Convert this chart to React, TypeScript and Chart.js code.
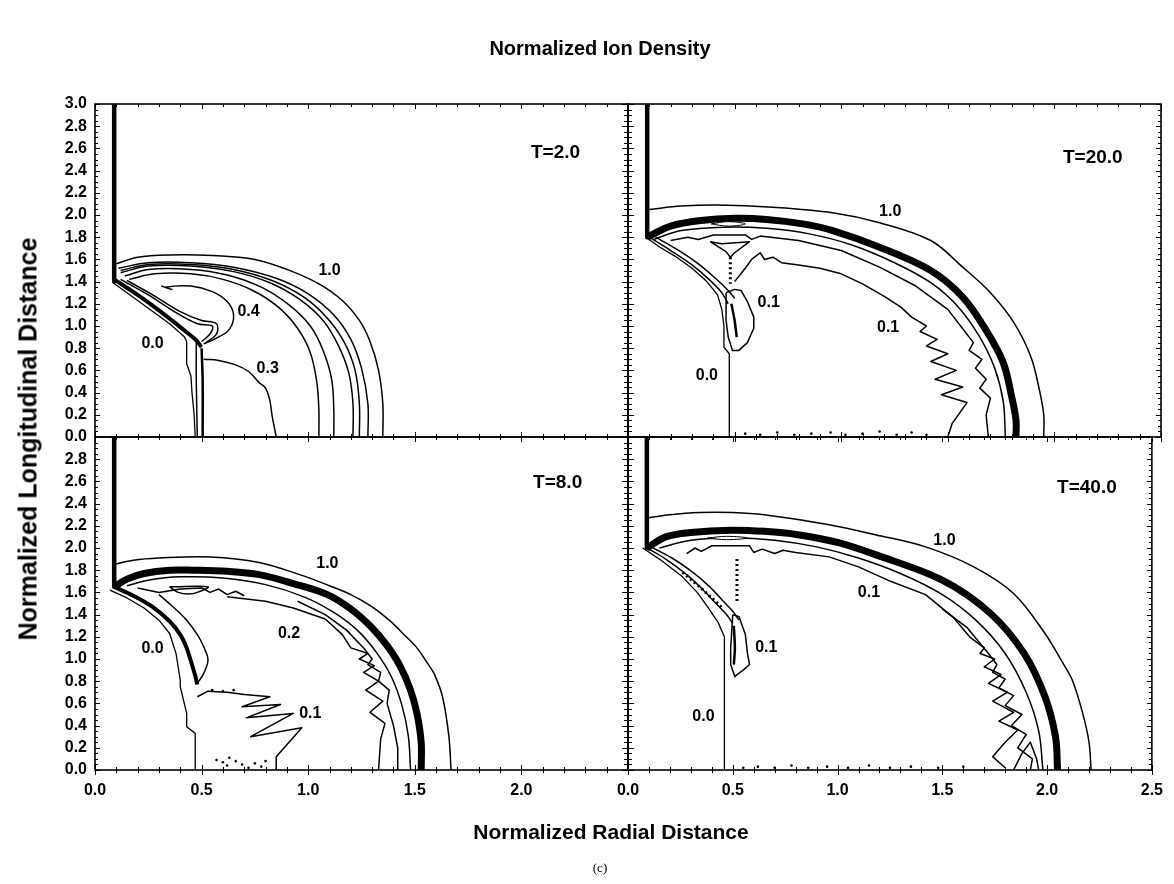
import React, { useEffect, useRef } from 'react';
import { Chart, registerables } from 'chart.js';
Chart.register(...registerables);

const W = 1174;
const H = 884;
const FONT = '"Liberation Sans", Arial, Helvetica, sans-serif';

// ---------- axis ticks ----------
const X_MIN = 0, X_MAX = 2.5, X_STEP = 0.5;
const Y_MIN = 0, Y_MAX = 3.0, Y_STEP = 0.2;

// ---------- Panel A : T=2.0 (contour polylines as x,y pairs) ----------
const A_WALL = [0.09, 3.0, 0.09, 1.40];
const A_CONE = [0.09, 1.42, 0.20, 1.28, 0.30, 1.14, 0.40, 0.99, 0.47, 0.88, 0.50, 0.81];
const A_ZERO = [0.085, 1.39, 0.15, 1.30, 0.25, 1.16, 0.35, 1.02, 0.42, 0.90, 0.43, 0.86, 0.43, 0.66, 0.45, 0.55, 0.455, 0.40, 0.465, 0.20, 0.47, 0.0];
const A_STEM1 = [0.475, 0.86, 0.475, 0.5, 0.48, 0.0];
const A_STEM2 = [0.50, 0.80, 0.505, 0.5, 0.505, 0.0];
const A_LOOP1 = [0.12, 1.42, 0.25, 1.28, 0.38, 1.12, 0.48, 1.02, 0.55, 1.00, 0.54, 0.93, 0.50, 0.86];
const A_LOOP2 = [0.15, 1.41, 0.28, 1.27, 0.40, 1.13, 0.50, 1.05, 0.57, 1.02, 0.57, 0.93, 0.52, 0.85];
const A_C04 = [0.31, 1.36, 0.36, 1.33, 0.33, 1.35, 0.45, 1.36, 0.55, 1.31, 0.62, 1.22, 0.65, 1.10, 0.63, 0.97, 0.57, 0.89, 0.51, 0.84];
const A_C03 = [0.51, 0.70, 0.58, 0.69, 0.66, 0.65, 0.72, 0.59, 0.77, 0.49, 0.80, 0.44, 0.82, 0.33, 0.83, 0.20, 0.85, 0.0];
const A_ARC1 = [0.10, 1.56, 0.20, 1.62, 0.35, 1.64, 0.55, 1.635, 0.75, 1.60, 0.90, 1.51, 1.05, 1.38, 1.16, 1.23, 1.24, 1.05, 1.29, 0.86, 1.33, 0.60, 1.35, 0.30, 1.35, 0.0];
const A_ARC2 = [0.11, 1.52, 0.25, 1.57, 0.45, 1.57, 0.65, 1.53, 0.85, 1.43, 1.00, 1.29, 1.12, 1.10, 1.20, 0.88, 1.25, 0.62, 1.28, 0.30, 1.28, 0.0];
const A_ARC3 = [0.12, 1.50, 0.25, 1.555, 0.45, 1.555, 0.65, 1.51, 0.83, 1.41, 0.98, 1.26, 1.09, 1.07, 1.17, 0.85, 1.22, 0.60, 1.24, 0.30, 1.24, 0.0];
const A_ARC4 = [0.12, 1.48, 0.25, 1.54, 0.45, 1.54, 0.65, 1.49, 0.82, 1.39, 0.96, 1.24, 1.07, 1.05, 1.14, 0.83, 1.19, 0.58, 1.21, 0.30, 1.21, 0.0];
const A_ARC5 = [0.14, 1.45, 0.25, 1.51, 0.45, 1.51, 0.62, 1.46, 0.78, 1.35, 0.91, 1.19, 1.01, 1.00, 1.07, 0.78, 1.11, 0.52, 1.12, 0.25, 1.12, 0.0];
const A_ARC6 = [0.16, 1.42, 0.28, 1.47, 0.45, 1.47, 0.60, 1.42, 0.74, 1.32, 0.86, 1.17, 0.95, 0.98, 1.01, 0.76, 1.04, 0.50, 1.05, 0.25, 1.05, 0.0];
const A_LBL_T = ['1.0', '0.4', '0.0', '0.3'];
const A_LBL_X = [1.10, 0.72, 0.27, 0.81];
const A_LBL_Y = [1.50, 1.13, 0.84, 0.62];

// ---------- Panel B : T=20.0 ----------
const B_WALL = [0.09, 3.0, 0.09, 1.80];
const B_OUTER = [0.10, 2.05, 0.25, 2.08, 0.42, 2.09, 0.68, 2.07, 0.96, 2.02, 1.18, 1.93, 1.42, 1.77, 1.57, 1.53, 1.70, 1.30, 1.81, 1.03, 1.89, 0.72, 1.93, 0.42, 1.95, 0.20, 1.95, 0.0];
const B_SHELL = [0.09, 1.80, 0.20, 1.90, 0.34, 1.95, 0.50, 1.97, 0.65, 1.96, 0.82, 1.92, 0.96, 1.86, 1.18, 1.71, 1.42, 1.50, 1.57, 1.26, 1.68, 0.96, 1.76, 0.67, 1.80, 0.36, 1.82, 0.15, 1.82, 0.0];
const B_IN1 = [0.12, 1.78, 0.25, 1.86, 0.45, 1.89, 0.65, 1.88, 0.85, 1.83, 1.05, 1.73, 1.25, 1.57, 1.42, 1.39, 1.55, 1.17, 1.65, 0.90, 1.72, 0.62, 1.76, 0.32, 1.77, 0.0];
const B_IN2 = [0.20, 1.77, 0.28, 1.80, 0.33, 1.78, 0.40, 1.82, 0.55, 1.82, 0.58, 1.78, 0.62, 1.81, 0.80, 1.77, 1.0, 1.68, 1.18, 1.53, 1.35, 1.36, 1.50, 1.15, 1.58, 0.95, 1.62, 0.85, 1.60, 0.78, 1.66, 0.70, 1.63, 0.62, 1.68, 0.52, 1.65, 0.44, 1.70, 0.35, 1.68, 0.20, 1.69, 0.0];
const B_C01 = [0.50, 1.40, 0.55, 1.52, 0.58, 1.60, 0.62, 1.66, 0.64, 1.60, 0.68, 1.62, 0.72, 1.57, 0.80, 1.55, 0.90, 1.52, 1.00, 1.47, 1.10, 1.38, 1.20, 1.27, 1.28, 1.17, 1.33, 1.08, 1.40, 1.00, 1.37, 0.95, 1.45, 0.88, 1.40, 0.82, 1.50, 0.75, 1.42, 0.68, 1.54, 0.60, 1.44, 0.52, 1.57, 0.45, 1.47, 0.38, 1.59, 0.31, 1.52, 0.12, 1.50, 0.0];
const B_TRI = [0.385, 1.76, 0.44, 1.74, 0.57, 1.76, 0.50, 1.66, 0.48, 1.62, 0.46, 1.67, 0.385, 1.76];
const B_DASH = [0.48, 1.62, 0.48, 1.38];
const B_LENS = [0.39, 1.92, 0.47, 1.94, 0.55, 1.92, 0.47, 1.90, 0.39, 1.92];
const B_ZERO = [0.09, 1.79, 0.15, 1.71, 0.22, 1.63, 0.30, 1.52, 0.37, 1.40, 0.42, 1.28, 0.44, 1.15, 0.45, 1.00, 0.45, 0.81, 0.475, 0.75, 0.475, 0.55, 0.475, 0.0];
const B_CONE1 = [0.10, 1.80, 0.20, 1.68, 0.30, 1.55, 0.38, 1.42, 0.44, 1.30, 0.47, 1.20];
const B_CONE2 = [0.13, 1.80, 0.23, 1.69, 0.33, 1.56, 0.41, 1.43, 0.47, 1.32, 0.50, 1.25];
const B_TONGUE = [0.46, 1.30, 0.50, 1.33, 0.53, 1.32, 0.56, 1.22, 0.59, 1.08, 0.59, 0.98, 0.56, 0.85, 0.52, 0.78, 0.49, 0.78, 0.47, 0.90, 0.46, 1.05, 0.46, 1.30];
const B_CORE = [0.485, 1.20, 0.50, 1.05, 0.51, 0.90];
const B_NOISE = [0.55, 0.03, 0.62, 0.02, 0.70, 0.04, 0.78, 0.02, 0.86, 0.03, 0.95, 0.04, 1.02, 0.02, 1.10, 0.03, 1.18, 0.05, 1.26, 0.02, 1.33, 0.04, 1.40, 0.02];
const B_LBL_T = ['1.0', '0.1', '0.1', '0.0'];
const B_LBL_X = [1.23, 0.66, 1.22, 0.37];
const B_LBL_Y = [2.03, 1.21, 0.99, 0.55];

// ---------- Panel C : T=8.0 ----------
const C_WALL = [0.09, 3.0, 0.09, 1.65];
const C_OUTER = [0.085, 1.85, 0.18, 1.89, 0.30, 1.91, 0.54, 1.92, 0.77, 1.87, 0.96, 1.76, 1.10, 1.66, 1.20, 1.58, 1.30, 1.47, 1.38, 1.35, 1.46, 1.20, 1.51, 1.10, 1.56, 0.96, 1.59, 0.87, 1.63, 0.66, 1.66, 0.30, 1.67, 0.0];
const C_SHELL = [0.09, 1.65, 0.15, 1.72, 0.23, 1.77, 0.35, 1.80, 0.46, 1.80, 0.62, 1.79, 0.77, 1.76, 0.93, 1.68, 1.09, 1.58, 1.20, 1.45, 1.30, 1.28, 1.37, 1.12, 1.43, 0.94, 1.48, 0.72, 1.51, 0.51, 1.53, 0.25, 1.53, 0.0];
const C_IN1 = [0.15, 1.66, 0.25, 1.71, 0.40, 1.74, 0.60, 1.73, 0.80, 1.67, 0.98, 1.56, 1.12, 1.42, 1.23, 1.26, 1.32, 1.06, 1.39, 0.84, 1.44, 0.58, 1.47, 0.30, 1.48, 0.0];
const C_IN2 = [0.95, 1.52, 1.08, 1.40, 1.18, 1.26, 1.26, 1.10, 1.30, 1.00, 1.28, 0.95, 1.34, 0.88, 1.33, 0.80, 1.38, 0.72, 1.37, 0.60, 1.40, 0.40, 1.42, 0.20, 1.42, 0.0];
const C_JAG = [0.20, 1.64, 0.30, 1.60, 0.40, 1.63, 0.50, 1.64, 0.54, 1.60, 0.58, 1.63, 0.62, 1.58, 0.66, 1.61, 0.70, 1.57];
const C_C02 = [0.62, 1.56, 0.80, 1.52, 0.93, 1.46, 1.08, 1.36, 1.16, 1.22, 1.20, 1.10, 1.28, 1.05, 1.24, 1.00, 1.31, 0.94, 1.26, 0.88, 1.33, 0.80, 1.27, 0.72, 1.35, 0.62, 1.29, 0.52, 1.36, 0.42, 1.34, 0.28, 1.33, 0.0];
const C_LENS = [0.35, 1.65, 0.53, 1.65, 0.48, 1.60, 0.44, 1.585, 0.39, 1.60, 0.35, 1.65];
const C_CONE = [0.09, 1.65, 0.18, 1.57, 0.27, 1.47, 0.35, 1.34, 0.40, 1.22, 0.43, 1.10, 0.45, 0.98, 0.47, 0.85, 0.48, 0.77];
const C_TONGUE = [0.30, 1.58, 0.36, 1.48, 0.43, 1.35, 0.48, 1.22, 0.51, 1.11, 0.53, 0.99, 0.51, 0.87, 0.48, 0.78];
const C_ZERO = [0.07, 1.62, 0.15, 1.55, 0.23, 1.46, 0.30, 1.35, 0.35, 1.23, 0.38, 1.05, 0.40, 0.81, 0.40, 0.75, 0.43, 0.51, 0.43, 0.39, 0.47, 0.33, 0.47, 0.0];
const C_C01 = [0.48, 0.66, 0.53, 0.71, 0.62, 0.70, 0.70, 0.68, 0.82, 0.66, 0.69, 0.57, 0.87, 0.59, 0.71, 0.47, 0.93, 0.51, 0.73, 0.30, 0.97, 0.38, 0.85, 0.12, 0.85, 0.0];
const C_NOISE = [0.57, 0.09, 0.60, 0.07, 0.62, 0.04, 0.66, 0.08, 0.69, 0.05, 0.72, 0.02, 0.75, 0.06, 0.78, 0.03, 0.80, 0.08, 0.63, 0.11, 0.55, 0.72, 0.60, 0.71, 0.65, 0.72];
const C_LBL_T = ['1.0', '0.2', '0.0', '0.1'];
const C_LBL_X = [1.09, 0.91, 0.27, 1.01];
const C_LBL_Y = [1.86, 1.23, 1.09, 0.51];

// ---------- Panel D : T=40.0 ----------
const D_WALL = [0.09, 3.0, 0.09, 2.0];
const D_OUTER = [0.09, 2.27, 0.20, 2.30, 0.34, 2.32, 0.50, 2.32, 0.65, 2.30, 0.96, 2.21, 1.18, 2.12, 1.42, 2.01, 1.65, 1.83, 1.84, 1.59, 1.99, 1.23, 2.07, 0.98, 2.12, 0.81, 2.17, 0.51, 2.20, 0.25, 2.21, 0.0];
const D_SHELL = [0.09, 2.00, 0.18, 2.10, 0.30, 2.14, 0.49, 2.16, 0.65, 2.15, 0.81, 2.12, 1.00, 2.05, 1.18, 1.94, 1.50, 1.71, 1.73, 1.41, 1.89, 1.05, 1.99, 0.66, 2.04, 0.30, 2.05, 0.0];
const D_IN1 = [0.15, 2.00, 0.30, 2.07, 0.50, 2.09, 0.70, 2.07, 0.90, 2.01, 1.10, 1.91, 1.30, 1.77, 1.50, 1.58, 1.66, 1.35, 1.80, 1.05, 1.90, 0.70, 1.96, 0.35, 1.98, 0.0];
const D_IN2 = [1.50, 1.45, 1.62, 1.28, 1.72, 1.05, 1.76, 0.95, 1.74, 0.88, 1.80, 0.82, 1.77, 0.74, 1.84, 0.67, 1.80, 0.58, 1.88, 0.50, 1.83, 0.40, 1.90, 0.32, 1.86, 0.20, 1.93, 0.10, 1.92, 0.0];
const D_C01 = [0.28, 1.95, 0.32, 2.00, 0.35, 1.97, 0.40, 2.02, 0.58, 2.02, 0.60, 1.96, 0.64, 1.99, 0.70, 1.95, 0.74, 1.98, 0.80, 1.96, 0.96, 1.92, 1.10, 1.83, 1.24, 1.71, 1.42, 1.58, 1.55, 1.38, 1.63, 1.20, 1.70, 1.10, 1.68, 1.05, 1.75, 1.00, 1.70, 0.93, 1.78, 0.86, 1.72, 0.78, 1.81, 0.70, 1.74, 0.62, 1.84, 0.52, 1.77, 0.44, 1.86, 0.36, 1.80, 0.25, 1.74, 0.12, 1.80, 0.02];
const D_LOOP = [1.84, 0.0, 1.88, 0.15, 1.92, 0.25, 1.95, 0.10, 1.96, 0.0];
const D_ZERO = [0.07, 2.00, 0.15, 1.90, 0.26, 1.74, 0.33, 1.60, 0.38, 1.47, 0.43, 1.33, 0.46, 1.20, 0.46, 0.96, 0.46, 0.50, 0.46, 0.0];
const D_CONE1 = [0.09, 2.00, 0.18, 1.90, 0.28, 1.76, 0.36, 1.62, 0.42, 1.50, 0.47, 1.40, 0.50, 1.32];
const D_CONE2 = [0.12, 2.00, 0.21, 1.91, 0.31, 1.78, 0.39, 1.65, 0.45, 1.53, 0.50, 1.43, 0.53, 1.35];
const D_CONEDOT = [0.26, 1.78, 0.33, 1.67, 0.40, 1.55, 0.45, 1.46];
const D_TONGUE = [0.50, 1.40, 0.53, 1.38, 0.56, 1.22, 0.57, 1.05, 0.58, 0.95, 0.55, 0.90, 0.52, 0.86, 0.51, 0.84, 0.49, 0.95, 0.49, 1.10, 0.50, 1.40];
const D_CORE = [0.505, 1.30, 0.51, 1.10, 0.505, 0.95];
const D_DASH = [0.52, 1.90, 0.52, 1.50];
const D_LENS = [0.38, 2.09, 0.47, 2.105, 0.57, 2.09, 0.47, 2.075, 0.38, 2.09];
const D_NOISE = [0.55, 0.02, 0.62, 0.03, 0.70, 0.02, 0.78, 0.04, 0.86, 0.02, 0.95, 0.03, 1.05, 0.02, 1.15, 0.04, 1.25, 0.02, 1.35, 0.03, 1.48, 0.02, 1.60, 0.03];
const D_LBL_T = ['1.0', '0.1', '0.1', '0.0'];
const D_LBL_X = [1.51, 1.15, 0.66, 0.36];
const D_LBL_Y = [2.07, 1.60, 1.10, 0.48];

// ---------- styles ----------
const STYLES: any = {
  thin: { w: 1.5, t: 0.35 },
  zig: { w: 1.5, t: 0 },
  stair: { w: 1.3, t: 0 },
  mid: { w: 2.5, t: 0.3 },
  wall: { w: 4.5, t: 0 },
  cone: { w: 4, t: 0.3 },
  shell: { w: 7, t: 0.35 },
  dash: { w: 3, t: 0, dash: [2, 3] },
  lens: { w: 1, t: 0.4, fill: true },
  dots: { dots: true, r: 1.3 },
};

const PANELS: any[] = [
  {
    key: 'A', rect: [95, 104, 628, 437], side: 'left', xLabels: false, yLabels: true,
    tag: 'T=2.0', tagX: 2.16, tagY: 2.56,
    curves: [[A_ZERO, 'stair'], [A_STEM1, 'thin'], [A_STEM2, 'mid'], [A_C03, 'thin'], [A_C04, 'thin'],
      [A_ARC6, 'thin'], [A_ARC5, 'thin'], [A_ARC4, 'thin'], [A_ARC3, 'thin'], [A_ARC2, 'thin'], [A_ARC1, 'thin'],
      [A_LOOP2, 'thin'], [A_LOOP1, 'thin'], [A_CONE, 'cone'], [A_WALL, 'wall']],
    lt: A_LBL_T, lx: A_LBL_X, ly: A_LBL_Y,
  },
  {
    key: 'B', rect: [628, 104, 1161, 437], side: 'right', xLabels: false, yLabels: false,
    tag: 'T=20.0', tagX: 2.18, tagY: 2.52,
    curves: [[B_ZERO, 'stair'], [B_NOISE, 'dots'], [B_C01, 'zig'], [B_IN2, 'zig'], [B_IN1, 'thin'], [B_OUTER, 'thin'],
      [B_SHELL, 'shell'], [B_LENS, 'lens'], [B_TRI, 'zig'], [B_DASH, 'dash'], [B_CONE1, 'thin'], [B_CONE2, 'thin'],
      [B_TONGUE, 'zig'], [B_CORE, 'mid'], [B_WALL, 'wall']],
    lt: B_LBL_T, lx: B_LBL_X, ly: B_LBL_Y,
  },
  {
    key: 'C', rect: [95, 437, 628, 770], side: 'left', xLabels: true, yLabels: true, skipTopY: true, skipLastX: true,
    tag: 'T=8.0', tagX: 2.17, tagY: 2.59,
    curves: [[C_ZERO, 'stair'], [C_NOISE, 'dots'], [C_C01, 'zig'], [C_C02, 'zig'], [C_JAG, 'zig'], [C_IN2, 'zig'], [C_IN1, 'thin'],
      [C_OUTER, 'thin'], [C_SHELL, 'shell'], [C_LENS, 'thin'], [C_TONGUE, 'thin'], [C_CONE, 'cone'], [C_WALL, 'wall']],
    lt: C_LBL_T, lx: C_LBL_X, ly: C_LBL_Y,
  },
  {
    key: 'D', rect: [628, 437, 1161, 770], side: 'right', xLabels: true, yLabels: false,
    tag: 'T=40.0', tagX: 2.19, tagY: 2.54,
    curves: [[D_ZERO, 'stair'], [D_NOISE, 'dots'], [D_C01, 'zig'], [D_LOOP, 'zig'], [D_IN2, 'zig'], [D_IN1, 'thin'], [D_OUTER, 'thin'],
      [D_SHELL, 'shell'], [D_LENS, 'lens'], [D_DASH, 'dash'], [D_CONE1, 'thin'], [D_CONE2, 'thin'], [D_CONEDOT, 'dash'],
      [D_TONGUE, 'zig'], [D_CORE, 'mid'], [D_WALL, 'wall']],
    lt: D_LBL_T, lx: D_LBL_X, ly: D_LBL_Y,
  },
];

function toPts(a: number[]) {
  const r: { x: number; y: number }[] = [];
  for (let i = 0; i + 1 < a.length; i += 2) r.push({ x: a[i], y: a[i + 1] });
  return r;
}

const decoPlugin = {
  id: 'deco',
  afterDatasetsDraw(chart: any, _args: any, opts: any) {
    const { ctx, chartArea: a } = chart;
    const x = chart.scales.x;
    const y = chart.scales.y;
    const p = opts.panel;
    const seg = (x1: number, y1: number, x2: number, y2: number) => {
      ctx.beginPath(); ctx.moveTo(x1, y1); ctx.lineTo(x2, y2); ctx.stroke();
    };
    ctx.save();
    ctx.strokeStyle = '#000';
    ctx.lineWidth = 1.6;
    ctx.strokeRect(a.left, a.top, a.right - a.left, a.bottom - a.top);
    ctx.lineWidth = 1;
    // x ticks every 0.1
    for (let i = 0; i <= 25; i++) {
      const px = Math.round(x.getPixelForValue(i * 0.1)) + 0.5;
      const L = i % 5 === 0 ? 5 : 3;
      seg(px, a.bottom - L, px, a.bottom + L);
      seg(px, a.top, px, a.top + L);
    }
    // y ticks every 0.05
    for (let i = 0; i <= 60; i++) {
      const py = Math.round(y.getPixelForValue(i * 0.05)) + 0.5;
      const major = i % 4 === 0;
      if (p.side === 'left') {
        seg(a.left, py, a.left + (major ? 5 : 3), py);
      } else {
        const L = major ? 6 : 4;
        seg(a.left - L, py, a.left + L, py);
        seg(a.right - (major ? 5 : 3), py, a.right, py);
      }
    }
    // contour value labels
    ctx.fillStyle = '#000';
    ctx.textAlign = 'center';
    ctx.textBaseline = 'middle';
    ctx.font = `bold 16px ${FONT}`;
    for (let i = 0; i < p.lt.length; i++) {
      ctx.fillText(p.lt[i], x.getPixelForValue(p.lx[i]), y.getPixelForValue(p.ly[i]));
    }
    ctx.font = `bold 19px ${FONT}`;
    ctx.fillText(p.tag, x.getPixelForValue(p.tagX), y.getPixelForValue(p.tagY));
    ctx.restore();
  },
};

function Panel({ p }: { p: any }) {
  const ref = useRef<HTMLCanvasElement | null>(null);
  useEffect(() => {
    const [l, t, r, b] = p.rect;
    const yW = p.yLabels ? 50 : 0;
    const xH = p.xLabels ? 34 : 0;
    const font = { family: FONT, size: 16, weight: 'bold' as const };
    const datasets = p.curves.map((c: any, i: number) => {
      const s = STYLES[c[1]];
      return {
        data: toPts(c[0]),
        showLine: !s.dots,
        borderColor: '#000',
        borderWidth: s.dots ? 0 : s.w,
        tension: s.t || 0,
        borderDash: s.dash || [],
        pointRadius: s.dots ? s.r : 0,
        pointHoverRadius: 0,
        pointBackgroundColor: '#000',
        pointBorderWidth: 0,
        fill: s.fill ? 'shape' : false,
        backgroundColor: s.fill ? '#fff' : '#000',
        borderJoinStyle: 'round',
        order: -i,
      };
    });
    const chart = new Chart(ref.current as HTMLCanvasElement, {
      type: 'scatter',
      data: { datasets },
      options: {
        animation: false,
        responsive: false,
        maintainAspectRatio: false,
        events: [],
        layout: { padding: { left: l - yW, top: t, right: W - r, bottom: H - b - xH } },
        plugins: {
          legend: { display: false },
          tooltip: { enabled: false },
          title: { display: false },
          deco: { panel: p },
        } as any,
        scales: {
          x: {
            type: 'linear', min: X_MIN, max: X_MAX,
            grid: { display: false, drawTicks: false },
            border: { display: false },
            ticks: {
              display: p.xLabels, stepSize: X_STEP, color: '#000', font, padding: 11,
              callback: (v: any) => (p.skipLastX && Math.abs(v - X_MAX) < 1e-6 ? '' : Number(v).toFixed(1)),
            },
            afterFit: (s: any) => { s.height = xH; },
          },
          y: {
            type: 'linear', min: Y_MIN, max: Y_MAX,
            grid: { display: false, drawTicks: false },
            border: { display: false },
            ticks: {
              display: p.yLabels, stepSize: Y_STEP, color: '#000', font, padding: 8,
              callback: (v: any) => (p.skipTopY && Math.abs(v - Y_MAX) < 1e-6 ? '' : Number(v).toFixed(1)),
            },
            afterFit: (s: any) => { s.width = yW; },
          },
        },
      } as any,
      plugins: [decoPlugin as any],
    });
    return () => chart.destroy();
  }, [p]);
  return <canvas ref={ref} width={W} height={H} style={{ position: 'absolute', left: 0, top: 0 }} />;
}

const textBase: React.CSSProperties = {
  position: 'absolute', fontFamily: FONT, fontWeight: 'bold', color: '#000', whiteSpace: 'nowrap', lineHeight: 1,
};

export default function App() {
  return (
    <div style={{ position: 'absolute', left: 0, top: 0, width: W, height: H, background: '#fff', overflow: 'hidden' }}>
      {PANELS.map((p) => <Panel key={p.key} p={p} />)}
      <div style={{ ...textBase, fontSize: 20, left: 600, top: 48, transform: 'translate(-50%, -50%)' }}>Normalized Ion Density</div>
      <div style={{ ...textBase, fontSize: 21, left: 611, top: 831, transform: 'translate(-50%, -50%)' }}>Normalized Radial Distance</div>
      <div style={{ ...textBase, fontSize: 25, left: 28, top: 439, transform: 'translate(-50%, -50%) rotate(-90deg)' }}>Normalized Longitudinal Distance</div>
      <div style={{ position: 'absolute', left: 600, top: 867, transform: 'translate(-50%, -50%)', fontFamily: '"Liberation Serif", "Times New Roman", serif', fontSize: 13, color: '#000', lineHeight: 1 }}>(c)</div>
    </div>
  );
}
